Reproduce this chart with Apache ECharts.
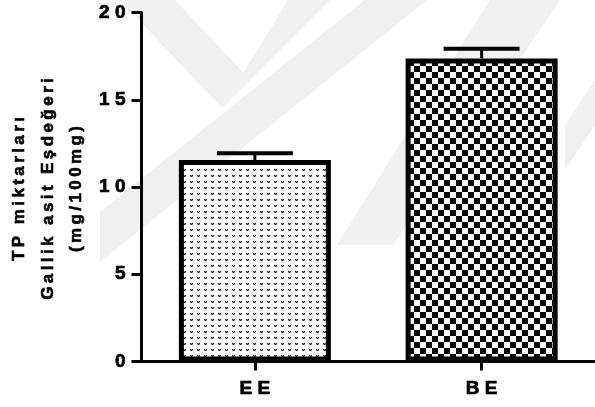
<!DOCTYPE html>
<html>
<head>
<meta charset="utf-8">
<script src="https://cdn.jsdelivr.net/npm/echarts@6/dist/echarts.min.js"></script>
<style>
  html, body { margin: 0; padding: 0; background: #ffffff; }
  #chart { width: 595px; height: 407px; }
</style>
</head>
<body>
<div id="chart"></div>
<script>
// Total phenolic content per extract (mean and error)
const categories = ['EE', 'BE'];
const means = [11.55, 17.37];
const errors = [0.38, 0.55];
const yTicks = [0, 5, 10, 15, 20];
const yTitleLines = ['TP miktarları', 'Gallik asit Eşdeğeri', '(mg/100mg)'];

// Wide tracking of the Prism-style labels
function spaced(s) { return String(s).split('').join(' '); }
function tracked(s) {
  return String(s).split(' ').map(w => w.split('').join('\u2009')).join('\u2009 \u2009');
}

// Fill patterns for the bars
function dotTile() {
  const c = document.createElement('canvas');
  c.width = 7; c.height = 6;
  const g = c.getContext('2d');
  g.fillStyle = '#ffffff'; g.fillRect(0, 0, 7, 6);
  g.fillStyle = '#141414';
  g.fillRect(1, 1, 1, 1); g.fillRect(3, 1, 1, 1); g.fillRect(2, 2, 1, 1);
  g.fillStyle = '#8c8c8c';
  g.fillRect(2, 1, 1, 1); g.fillRect(1, 2, 1, 1); g.fillRect(3, 2, 1, 1);
  return c;
}
function checkTile() {
  const c = document.createElement('canvas');
  c.width = 12; c.height = 12;
  const g = c.getContext('2d');
  g.fillStyle = '#ffffff'; g.fillRect(0, 0, 12, 12);
  g.fillStyle = '#000000';
  g.fillRect(0, 0, 6, 6); g.fillRect(6, 6, 6, 6);
  return c;
}
const fills = [dotTile(), checkTile()];

// Faint background watermark bands
const bandColor = '#f0f0f0';
const bands = [
  [[120, 0], [175, 0], [250, 80], [222, 108]],
  [[222, 108], [250, 80], [330, 0], [288, 0]],
  [[100, 212], [365, 0], [427, 0], [100, 262]],
  [[337, 245], [393, 245], [560, 0], [490, 0]],
  [[565, 170], [595, 125], [595, 80], [565, 125]]
];

const chart = echarts.init(document.getElementById('chart'), null, { renderer: 'canvas' });

const labelFont = {
  color: '#000', fontWeight: 'bold', fontSize: 19,
  fontFamily: '"Liberation Sans", Arial, sans-serif',
  textBorderColor: '#000', textBorderWidth: 0.7
};

chart.setOption({
  animation: false,
  backgroundColor: '#ffffff',
  grid: { left: 141.5, right: -5, top: 12.5, bottom: 45.5 },
  xAxis: {
    type: 'category',
    data: categories,
    boundaryGap: true,
    axisLine: { show: true, lineStyle: { color: '#000', width: 3 } },
    axisTick: { show: true, alignWithLabel: true, length: 9, lineStyle: { color: '#000', width: 3 } },
    axisLabel: Object.assign({ margin: 18, formatter: spaced }, labelFont),
    splitLine: { show: false }
  },
  yAxis: {
    type: 'value',
    min: yTicks[0],
    max: yTicks[yTicks.length - 1],
    interval: yTicks[1] - yTicks[0],
    axisLine: { show: true, lineStyle: { color: '#000', width: 3 } },
    axisTick: { show: true, length: 10, lineStyle: { color: '#000', width: 3 } },
    axisLabel: Object.assign({ margin: 16, formatter: spaced }, labelFont),
    splitLine: { show: false }
  },
  graphic: bands.map(pts => ({
    type: 'polygon',
    z: -10,
    silent: true,
    shape: { points: pts },
    style: { fill: bandColor }
  })).concat([{
    type: 'text',
    x: 48,
    y: 189,
    rotation: Math.PI / 2,
    z: 10,
    style: {
      text: yTitleLines.map(tracked).join('\n'),
      font: 'bold 17px "Liberation Sans", Arial, sans-serif',
      fill: '#000',
      stroke: '#000',
      lineWidth: 0.6,
      align: 'center',
      verticalAlign: 'middle',
      textAlign: 'center',
      textVerticalAlign: 'middle',
      lineHeight: 28.5
    }
  }]),
  series: [
    {
      type: 'bar',
      barWidth: 152,
      z: 2,
      silent: true,
      data: means.map((v, i) => ({
        value: v,
        itemStyle: { color: { image: fills[i], repeat: 'repeat' } }
      })),
      itemStyle: { borderColor: '#000', borderWidth: 5 }
    },
    {
      type: 'custom',
      z: 3,
      silent: true,
      data: means.map((v, i) => [i, v, v + errors[i]]),
      renderItem: function (params, api) {
        const x = api.value(0);
        const base = api.coord([x, api.value(1)]);
        const top = api.coord([x, api.value(2)]);
        const half = 38;
        return {
          type: 'group',
          children: [
            { type: 'line', shape: { x1: base[0], y1: base[1], x2: top[0], y2: top[1] }, style: { stroke: '#000', lineWidth: 3 } },
            { type: 'line', shape: { x1: top[0] - half, y1: top[1], x2: top[0] + half, y2: top[1] }, style: { stroke: '#000', lineWidth: 4 } }
          ]
        };
      }
    }
  ]
});
</script>
</body>
</html>
